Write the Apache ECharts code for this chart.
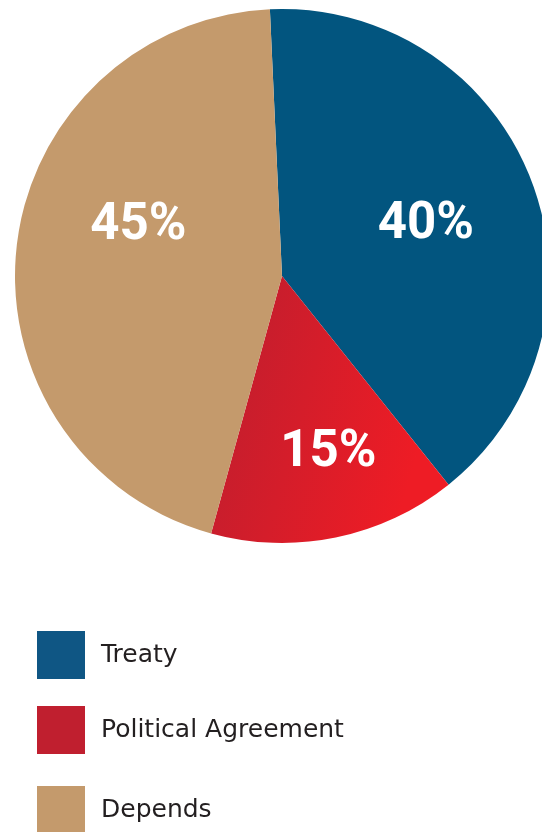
<!DOCTYPE html>
<html>
<head>
<meta charset="utf-8">
<script src="https://cdn.jsdelivr.net/npm/echarts@6/dist/echarts.min.js"></script>
<style>
  html, body { margin: 0; padding: 0; background: #ffffff; }
  #chart { width: 542px; height: 832px; }
</style>
</head>
<body>
<div id="chart"></div>
<script>
// Share of respondents by preferred form of agreement
const categories = ['Treaty', 'Political Agreement', 'Depends'];
const shares = [40, 15, 45];

// Slice fills; the middle slice gets a left-to-right red blend
const sliceColors = [
  '#02557f',
  new echarts.graphic.LinearGradient(0, 0, 1, 0.25, [
    { offset: 0, color: '#bb1e2f' },
    { offset: 1, color: '#ee1c25' }
  ]),
  '#c49a6c'
];
const legendColors = ['#0f5684', '#c01f2f', '#c49a6c'];

// Nudges from the default inside-label spot, in px
const labelNudge = [[16, -3], [19, 44], [-8, -35]];
// Top edge of each legend row
const legendTops = [631, 706, 786];

const chart = echarts.init(document.getElementById('chart'), null, { renderer: 'canvas' });

const pieData = categories.map((name, i) => ({
  name: name,
  value: shares[i],
  itemStyle: { color: sliceColors[i] },
  label: { offset: labelNudge[i] }
}));

const legends = categories.map((name, i) => ({
  show: true,
  orient: 'vertical',
  left: 37,
  top: legendTops[i],
  padding: 0,
  icon: 'rect',
  itemWidth: 48,
  itemHeight: 48,
  selectedMode: false,
  data: [{ name: name, itemStyle: { color: legendColors[i] } }],
  textStyle: {
    fontFamily: 'DejaVu Sans',
    fontSize: 25,
    color: '#231f20',
    padding: [8, 0, 0, 11]
  }
}));

chart.setOption({
  animation: false,
  backgroundColor: '#ffffff',
  legend: legends,
  series: [{
    type: 'pie',
    center: [282, 276],
    radius: [0, 267],
    startAngle: 92.6,
    clockwise: true,
    data: pieData,
    label: {
      show: true,
      position: 'inside',
      formatter: '{c}%',
      color: '#ffffff',
      fontFamily: 'Roboto',
      fontWeight: 'bold',
      fontSize: 51
    },
    labelLine: { show: false },
    emphasis: { disabled: true },
    itemStyle: { borderWidth: 0 }
  }]
});
</script>
</body>
</html>
